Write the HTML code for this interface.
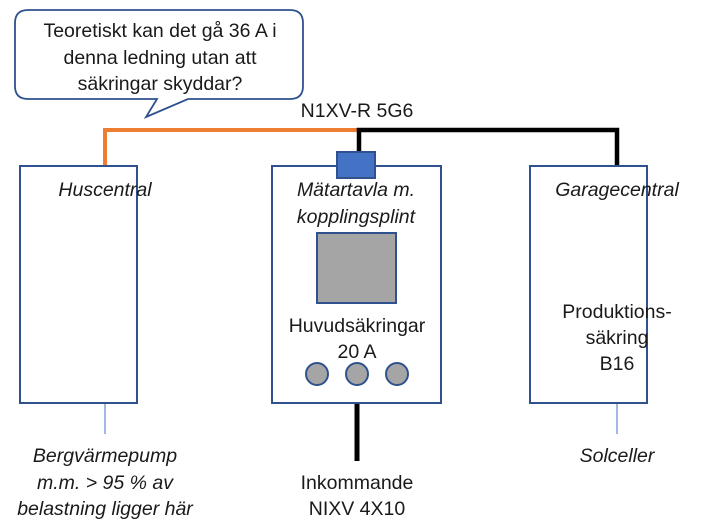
<!DOCTYPE html>
<html><head><meta charset="utf-8"><style>
html,body{margin:0;padding:0;background:#fff;}
svg{display:block;}
text{font-family:"Liberation Sans",sans-serif;font-size:19.5px;fill:#1a1a1a;}
.i{font-style:italic;}
</style></head><body>
<svg width="718" height="532" viewBox="0 0 718 532" xmlns="http://www.w3.org/2000/svg">
<path d="M28,10 H290 Q303,10 303,23 V86 Q303,99 290,99 H188 L146,117 L157,99 H28 Q15,99 15,86 V23 Q15,10 28,10 Z" fill="#fff" stroke="#2f528f" stroke-width="1.8"/>
<text x="160" y="37" text-anchor="middle">Teoretiskt kan det gå 36 A i</text>
<text x="160" y="64" text-anchor="middle">denna ledning utan att</text>
<text x="160" y="90" text-anchor="middle">säkringar skyddar?</text>
<text x="357" y="117" text-anchor="middle">N1XV-R 5G6</text>
<polyline points="105,166 105,130 359,130" fill="none" stroke="#ed7d31" stroke-width="4"/>
<polyline points="359,152 359,130 617,130 617,167" fill="none" stroke="#000" stroke-width="4.5"/>
<line x1="357" y1="403" x2="357" y2="461" stroke="#000" stroke-width="5"/>
<line x1="105" y1="403" x2="105" y2="434" stroke="#4472c4" stroke-width="1"/>
<line x1="617" y1="403" x2="617" y2="434" stroke="#4472c4" stroke-width="1"/>
<rect x="20" y="166" width="117" height="237" fill="#fff" stroke="#2f528f" stroke-width="2"/>
<rect x="272" y="166" width="169" height="237" fill="#fff" stroke="#2f528f" stroke-width="2"/>
<rect x="530" y="166" width="117" height="237" fill="#fff" stroke="#2f528f" stroke-width="2"/>
<rect x="337" y="152" width="38" height="26" fill="#4472c4" stroke="#2f528f" stroke-width="2"/>
<rect x="317" y="233" width="79" height="70" fill="#a5a5a5" stroke="#2f528f" stroke-width="2"/>
<circle cx="317" cy="374" r="11" fill="#a5a5a5" stroke="#2f528f" stroke-width="2"/>
<circle cx="357" cy="374" r="11" fill="#a5a5a5" stroke="#2f528f" stroke-width="2"/>
<circle cx="397" cy="374" r="11" fill="#a5a5a5" stroke="#2f528f" stroke-width="2"/>
<text class="i" x="105" y="196" text-anchor="middle">Huscentral</text>
<text class="i" x="356" y="196" text-anchor="middle">Mätartavla m.</text>
<text class="i" x="356" y="223" text-anchor="middle">kopplingsplint</text>
<text x="357" y="332" text-anchor="middle">Huvudsäkringar</text>
<text x="357" y="358" text-anchor="middle">20 A</text>
<text class="i" x="617" y="196" text-anchor="middle">Garagecentral</text>
<text x="617" y="318" text-anchor="middle">Produktions-</text>
<text x="617" y="344" text-anchor="middle">säkring</text>
<text x="617" y="370" text-anchor="middle">B16</text>
<text class="i" x="105" y="462" text-anchor="middle">Bergvärmepump</text>
<text class="i" x="105" y="489" text-anchor="middle">m.m. &gt; 95 % av</text>
<text class="i" x="105" y="515" text-anchor="middle">belastning ligger här</text>
<text x="357" y="489" text-anchor="middle">Inkommande</text>
<text x="357" y="515" text-anchor="middle">NIXV 4X10</text>
<text class="i" x="617" y="462" text-anchor="middle">Solceller</text>
</svg>
</body></html>
